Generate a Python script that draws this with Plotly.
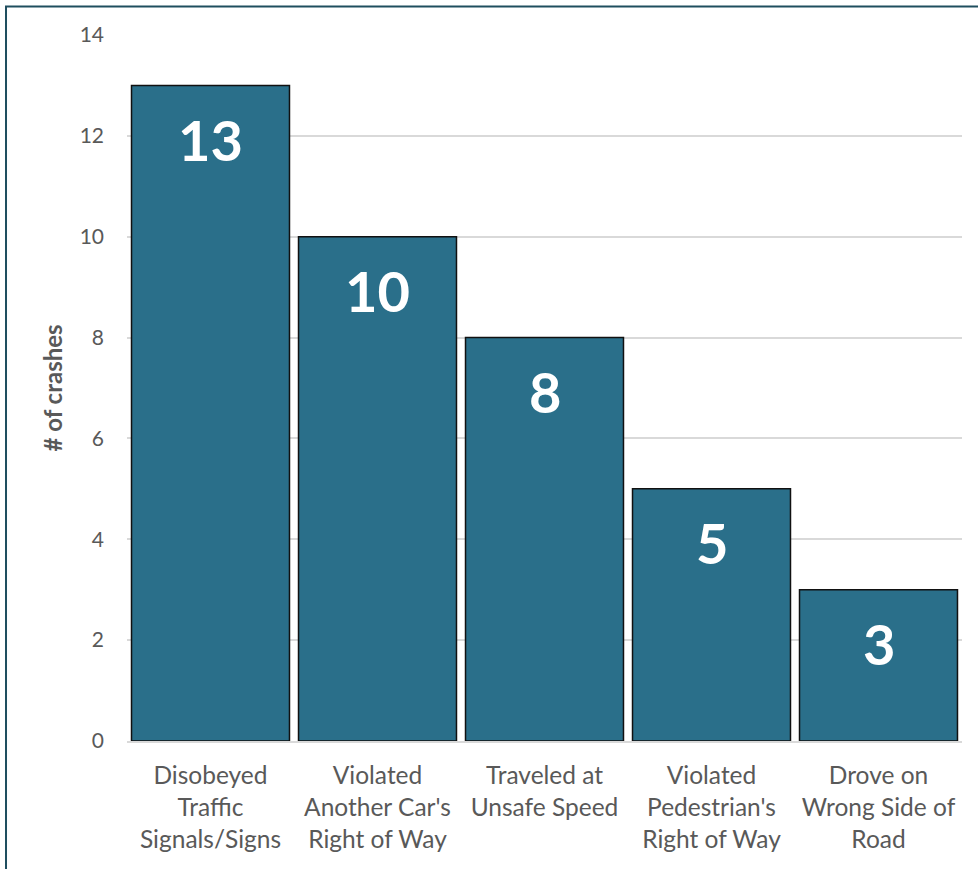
import plotly.graph_objects as go

# Crash causes and counts
categories = [
    "Disobeyed<br>Traffic<br>Signals/Signs",
    "Violated<br>Another Car's<br>Right of Way",
    "Traveled at<br>Unsafe Speed",
    "Violated<br>Pedestrian's<br>Right of Way",
    "Drove on<br>Wrong Side of<br>Road",
]
crashes = [13, 10, 8, 5, 3]
y_ticks = [0, 2, 4, 6, 8, 10, 12, 14]

BAR_COLOR = "#2A6F8A"
TEXT_GRAY = "#595959"
FONT = "Lato"

fig = go.Figure(
    go.Bar(
        x=categories,
        y=crashes,
        marker=dict(color=BAR_COLOR, line=dict(color="#111111", width=1.5)),
        hoverinfo="x+y",
    )
)

# Value labels inside the top of each bar
for cat, val in zip(categories, crashes):
    fig.add_annotation(
        x=cat, y=val, text=f"<b>{val}</b>", showarrow=False,
        yanchor="middle", yshift=-54,
        font=dict(family=FONT, size=56, color="white"),
    )

# Frame line along the left and top edges
fig.add_shape(
    type="path", xref="paper", yref="paper",
    path="M -0.1449,-0.3 L -0.1449,1.0404 L 1.1,1.0404",
    line=dict(color="#1F4E5F", width=2),
)

fig.update_layout(
    width=978, height=869,
    margin=dict(l=127, r=16, t=35, b=128),
    paper_bgcolor="white", plot_bgcolor="white",
    bargap=0.054,
    showlegend=False,
    font=dict(family=FONT, color=TEXT_GRAY),
    xaxis=dict(
        tickfont=dict(size=24.5, color=TEXT_GRAY),
        showline=True, linecolor="#D9D9D9", linewidth=2,
        ticks="", ticklabelstandoff=12,
    ),
    yaxis=dict(
        range=[0, 14], tickvals=y_ticks,
        tickfont=dict(size=21, color=TEXT_GRAY),
        showgrid=True, gridcolor="#D9D9D9", gridwidth=1.5,
        zeroline=False, showline=False, ticks="",
        ticklabelstandoff=22,
        title=dict(text="<b># of crashes</b>", font=dict(size=24, color=TEXT_GRAY), standoff=10),
    ),
)

fig.write_html("out.html")
